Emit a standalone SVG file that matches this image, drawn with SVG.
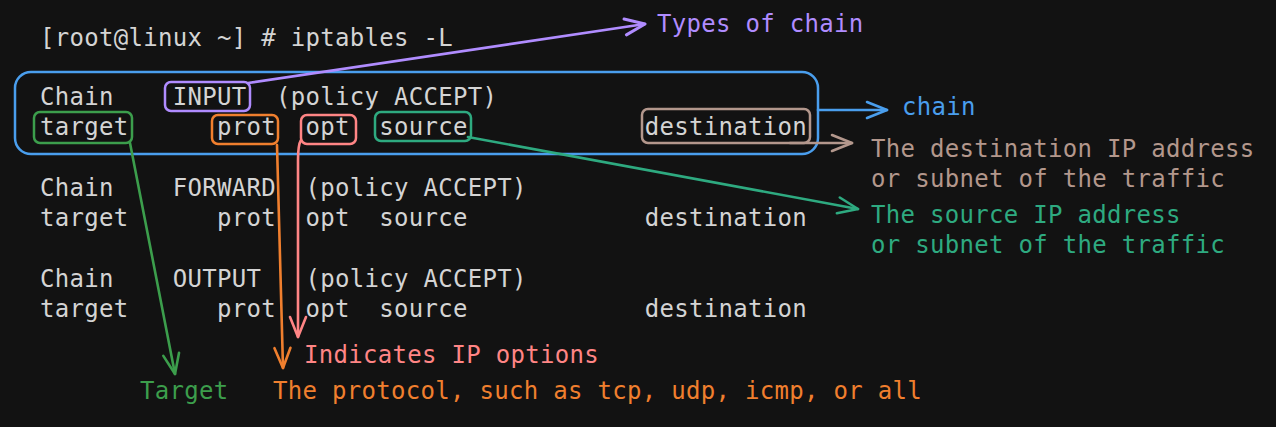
<svg xmlns="http://www.w3.org/2000/svg" width="1276" height="427" viewBox="0 0 1276 427">
<style>
text{font-family:"DejaVu Sans Mono","Liberation Mono",monospace;font-size:24px;letter-spacing:0.3px;white-space:pre}
.t{fill:#d4d4d4}
.box{fill:none;stroke-width:2.5}
.ln{fill:none;stroke-width:2.6;stroke-linecap:round}
.pu{fill:#b08cff}.bl{fill:#4a9eed}.br{fill:#b3978c}.te{fill:#2eaa80}.gr{fill:#3c9e4c}.or{fill:#f07f2e}.sa{fill:#ff8585}
</style>
<defs>
<marker id="aPu" viewBox="-24 -12 28 24" refX="0" refY="0" markerWidth="28" markerHeight="24" markerUnits="userSpaceOnUse" orient="auto"><path d="M-20,-8 L0,0 L-20,8" fill="none" stroke="#b08cff" stroke-width="3" stroke-linecap="round" stroke-linejoin="round"/></marker>
<marker id="aBl" viewBox="-24 -12 28 24" refX="0" refY="0" markerWidth="28" markerHeight="24" markerUnits="userSpaceOnUse" orient="auto"><path d="M-20,-8 L0,0 L-20,8" fill="none" stroke="#4a9eed" stroke-width="2.6" stroke-linecap="round" stroke-linejoin="round"/></marker>
<marker id="aBr" viewBox="-24 -12 28 24" refX="0" refY="0" markerWidth="28" markerHeight="24" markerUnits="userSpaceOnUse" orient="auto"><path d="M-20,-8 L0,0 L-20,8" fill="none" stroke="#b3978c" stroke-width="2.6" stroke-linecap="round" stroke-linejoin="round"/></marker>
<marker id="aTe" viewBox="-24 -12 28 24" refX="0" refY="0" markerWidth="28" markerHeight="24" markerUnits="userSpaceOnUse" orient="auto"><path d="M-20,-8 L0,0 L-20,8" fill="none" stroke="#2eaa80" stroke-width="2.6" stroke-linecap="round" stroke-linejoin="round"/></marker>
<marker id="aGr" viewBox="-24 -12 28 24" refX="0" refY="0" markerWidth="28" markerHeight="24" markerUnits="userSpaceOnUse" orient="auto"><path d="M-20,-8 L0,0 L-20,8" fill="none" stroke="#3c9e4c" stroke-width="2.6" stroke-linecap="round" stroke-linejoin="round"/></marker>
<marker id="aOr" viewBox="-24 -12 28 24" refX="0" refY="0" markerWidth="28" markerHeight="24" markerUnits="userSpaceOnUse" orient="auto"><path d="M-20,-8 L0,0 L-20,8" fill="none" stroke="#f07f2e" stroke-width="2.6" stroke-linecap="round" stroke-linejoin="round"/></marker>
<marker id="aSa" viewBox="-24 -12 28 24" refX="0" refY="0" markerWidth="28" markerHeight="24" markerUnits="userSpaceOnUse" orient="auto"><path d="M-20,-8 L0,0 L-20,8" fill="none" stroke="#ff8585" stroke-width="2.6" stroke-linecap="round" stroke-linejoin="round"/></marker>
</defs>
<rect x="0" y="0" width="1276" height="427" fill="#121212"/>

<g id="terminal">
<text class="t" x="40" y="46">[root@linux ~] # iptables -L</text>
<text class="t" x="40" y="105">Chain</text><text class="t" x="172.75" y="105">INPUT</text><text class="t" x="276" y="105">(policy ACCEPT)</text>
<text class="t" x="40" y="135">target</text><text class="t" x="217" y="135">prot</text><text class="t" x="305.5" y="135">opt</text><text class="t" x="379.25" y="135">source</text><text class="t" x="644.75" y="135">destination</text>
<text class="t" x="40" y="196">Chain</text><text class="t" x="172.75" y="196">FORWARD</text><text class="t" x="305.5" y="196">(policy ACCEPT)</text>
<text class="t" x="40" y="226">target</text><text class="t" x="217" y="226">prot</text><text class="t" x="305.5" y="226">opt</text><text class="t" x="379.25" y="226">source</text><text class="t" x="644.75" y="226">destination</text>
<text class="t" x="40" y="287">Chain</text><text class="t" x="172.75" y="287">OUTPUT</text><text class="t" x="305.5" y="287">(policy ACCEPT)</text>
<text class="t" x="40" y="317">target</text><text class="t" x="217" y="317">prot</text><text class="t" x="305.5" y="317">opt</text><text class="t" x="379.25" y="317">source</text><text class="t" x="644.75" y="317">destination</text>
</g>

<g id="chain-box"><rect class="box" x="15" y="72" width="803" height="82" rx="16" stroke="#4a9eed"/></g>
<g id="input-box"><rect class="box" x="165" y="82" width="85" height="29" rx="6" stroke="#b08cff"/></g>
<g id="target-box"><rect class="box" x="34" y="112" width="98" height="31" rx="6" stroke="#3c9e4c"/></g>
<g id="prot-box"><rect class="box" x="212" y="115" width="66" height="29" rx="6" stroke="#f07f2e"/></g>
<g id="opt-box"><rect class="box" x="301" y="115" width="55" height="29" rx="6" stroke="#ff8585"/></g>
<g id="source-box"><rect class="box" x="375" y="112" width="96" height="29" rx="6" stroke="#2eaa80"/></g>
<g id="destination-box"><rect class="box" x="642" y="109" width="168" height="34" rx="6" stroke="#b3978c"/></g>

<g id="connectors">
<path class="ln" d="M248,83 L645,24" stroke="#b08cff" stroke-width="3.2" marker-end="url(#aPu)"/>
<path class="ln" d="M818,110 L887,110" stroke="#4a9eed" marker-end="url(#aBl)"/>
<path class="ln" d="M790,143 L852,143" stroke="#b3978c" marker-end="url(#aBr)"/>
<path class="ln" d="M468,137 L858,209" stroke="#2eaa80" marker-end="url(#aTe)"/>
<path class="ln" d="M130,143 L175,374" stroke="#3c9e4c" marker-end="url(#aGr)"/>
<path class="ln" d="M277,145 L283,368" stroke="#f07f2e" marker-end="url(#aOr)"/>
<path class="ln" d="M301,140 Q298,145 298,160 L298,337" stroke="#ff8585" marker-end="url(#aSa)"/>
</g>

<g id="labels">
<text class="pu" x="657" y="32">Types of chain</text>
<text class="bl" x="902" y="115">chain</text>
<text class="br" x="871" y="157">The destination IP address</text>
<text class="br" x="871" y="187">or subnet of the traffic</text>
<text class="te" x="871" y="223">The source IP address</text>
<text class="te" x="871" y="253">or subnet of the traffic</text>
<text class="sa" x="304" y="363">Indicates IP options</text>
<text class="gr" x="140" y="399">Target</text>
<text class="or" x="273" y="399">The protocol, such as tcp, udp, icmp, or all</text>
</g>
</svg>
